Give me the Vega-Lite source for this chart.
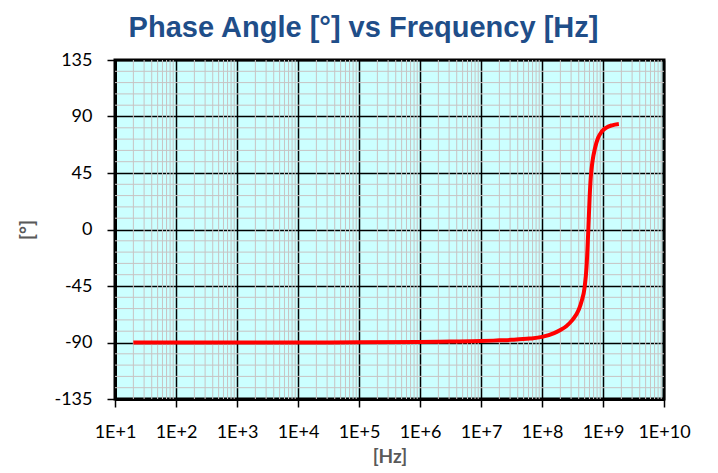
{
  "$schema": "https://vega.github.io/schema/vega-lite/v6.json",
  "autosize": {"type": "none"},
  "padding": {"left": 115, "top": 60, "right": 54, "bottom": 74},
  "width": 549,
  "height": 339,
  "background": "white",
  "title": {
    "text": "Phase Angle [°] vs Frequency [Hz]",
    "font": "Liberation Sans",
    "fontSize": 29,
    "fontWeight": "bold",
    "color": "#1f4e89",
    "anchor": "middle",
    "offset": 8,
    "dx": -26
  },
  "config": {
    "view": {"fill": "#ccffff", "stroke": "black", "strokeWidth": 3},
    "axis": {
      "labelFont": "Lato",
      "labelFontSize": 18,
      "labelColor": "black",
      "labelOverlap": false,
      "labelFlush": false,
      "labelBound": false,
      "titleFont": "Lato",
      "titleFontSize": 19,
      "titleFontWeight": "bold",
      "titleColor": "#595959",
      "domainColor": "black",
      "domainWidth": 3,
      "tickColor": "black",
      "tickWidth": 1.5,
      "tickSize": 8,
      "gridColor": "black",
      "gridWidth": 1.5,
      "gridOpacity": 1
    }
  },
  "datasets": {
    "minorx": [
      {"f": 20}, {"f": 30}, {"f": 40}, {"f": 50}, {"f": 60}, {"f": 70}, {"f": 80}, {"f": 90},
      {"f": 200}, {"f": 300}, {"f": 400}, {"f": 500}, {"f": 600}, {"f": 700}, {"f": 800}, {"f": 900},
      {"f": 2000}, {"f": 3000}, {"f": 4000}, {"f": 5000}, {"f": 6000}, {"f": 7000}, {"f": 8000}, {"f": 9000},
      {"f": 20000}, {"f": 30000}, {"f": 40000}, {"f": 50000}, {"f": 60000}, {"f": 70000}, {"f": 80000}, {"f": 90000},
      {"f": 200000}, {"f": 300000}, {"f": 400000}, {"f": 500000}, {"f": 600000}, {"f": 700000}, {"f": 800000}, {"f": 900000},
      {"f": 2000000}, {"f": 3000000}, {"f": 4000000}, {"f": 5000000}, {"f": 6000000}, {"f": 7000000}, {"f": 8000000}, {"f": 9000000},
      {"f": 20000000}, {"f": 30000000}, {"f": 40000000}, {"f": 50000000}, {"f": 60000000}, {"f": 70000000}, {"f": 80000000}, {"f": 90000000},
      {"f": 200000000}, {"f": 300000000}, {"f": 400000000}, {"f": 500000000}, {"f": 600000000}, {"f": 700000000}, {"f": 800000000}, {"f": 900000000},
      {"f": 2000000000}, {"f": 3000000000}, {"f": 4000000000}, {"f": 5000000000}, {"f": 6000000000}, {"f": 7000000000}, {"f": 8000000000}, {"f": 9000000000}
    ],
    "minory": [
      {"deg": -126}, {"deg": -117}, {"deg": -108}, {"deg": -99}, {"deg": -81}, {"deg": -72}, {"deg": -63}, {"deg": -54},
      {"deg": -36}, {"deg": -27}, {"deg": -18}, {"deg": -9}, {"deg": 9}, {"deg": 18}, {"deg": 27}, {"deg": 36},
      {"deg": 54}, {"deg": 63}, {"deg": 72}, {"deg": 81}, {"deg": 99}, {"deg": 108}, {"deg": 117}, {"deg": 126}
    ],
    "phase": [
      {"f": 20, "deg": -90},
      {"f": 100, "deg": -90},
      {"f": 1000, "deg": -90},
      {"f": 10000, "deg": -89.95},
      {"f": 100000, "deg": -89.85},
      {"f": 1000000, "deg": -89.6},
      {"f": 3160000, "deg": -89.3},
      {"f": 10000000, "deg": -88.9},
      {"f": 20000000, "deg": -88.3},
      {"f": 31600000, "deg": -87.9},
      {"f": 63000000, "deg": -86.9},
      {"f": 100000000, "deg": -85.5},
      {"f": 158000000, "deg": -82.5},
      {"f": 200000000, "deg": -80},
      {"f": 250000000, "deg": -77},
      {"f": 316000000, "deg": -72},
      {"f": 400000000, "deg": -64},
      {"f": 447000000, "deg": -57},
      {"f": 500000000, "deg": -46},
      {"f": 537000000, "deg": -30},
      {"f": 575000000, "deg": 0},
      {"f": 603000000, "deg": 25},
      {"f": 631000000, "deg": 42},
      {"f": 676000000, "deg": 55},
      {"f": 741000000, "deg": 65},
      {"f": 832000000, "deg": 73},
      {"f": 955000000, "deg": 78},
      {"f": 1120000000, "deg": 81},
      {"f": 1410000000, "deg": 83},
      {"f": 1820000000, "deg": 84}
    ]
  },
  "layer": [
    {
      "data": {"name": "minorx"},
      "mark": {"type": "rule", "color": "#c8c3c3", "strokeWidth": 1},
      "encoding": {
        "x": {
          "field": "f", "type": "quantitative",
          "scale": {"type": "log", "domain": [10, 10000000000], "nice": false},
          "axis": {
            "title": "[Hz]",
            "values": [10, 100, 1000, 10000, 100000, 1000000, 10000000, 100000000, 1000000000, 10000000000],
            "labelExpr": "'1E+' + round(log(datum.value) / LN10)",
            "labelPadding": 16,
            "titlePadding": 6,
            "grid": true
          }
        }
      }
    },
    {
      "data": {"name": "minory"},
      "mark": {"type": "rule", "color": "#c8c3c3", "strokeWidth": 1},
      "encoding": {
        "y": {
          "field": "deg", "type": "quantitative",
          "scale": {"domain": [-135, 135], "nice": false, "zero": false},
          "axis": {
            "title": "[°]",
            "values": [-135, -90, -45, 0, 45, 90, 135],
            "labelExpr": "datum.value < 0 ? '-' + (-datum.value) : '' + datum.value",
            "labelPadding": 15,
            "titlePadding": 16,
            "grid": true
          }
        }
      }
    },
    {
      "data": {"name": "phase"},
      "mark": {"type": "line", "color": "#ff0000", "strokeWidth": 4, "interpolate": "monotone"},
      "encoding": {
        "x": {
          "field": "f", "type": "quantitative",
          "scale": {"type": "log", "domain": [10, 10000000000], "nice": false},
          "axis": {
            "title": "[Hz]",
            "values": [10, 100, 1000, 10000, 100000, 1000000, 10000000, 100000000, 1000000000, 10000000000],
            "labelExpr": "'1E+' + round(log(datum.value) / LN10)",
            "labelPadding": 16,
            "titlePadding": 6,
            "grid": true
          }
        },
        "y": {
          "field": "deg", "type": "quantitative",
          "scale": {"domain": [-135, 135], "nice": false, "zero": false},
          "axis": {
            "title": "[°]",
            "values": [-135, -90, -45, 0, 45, 90, 135],
            "labelExpr": "datum.value < 0 ? '-' + (-datum.value) : '' + datum.value",
            "labelPadding": 15,
            "titlePadding": 16,
            "grid": true
          }
        }
      }
    }
  ]
}
